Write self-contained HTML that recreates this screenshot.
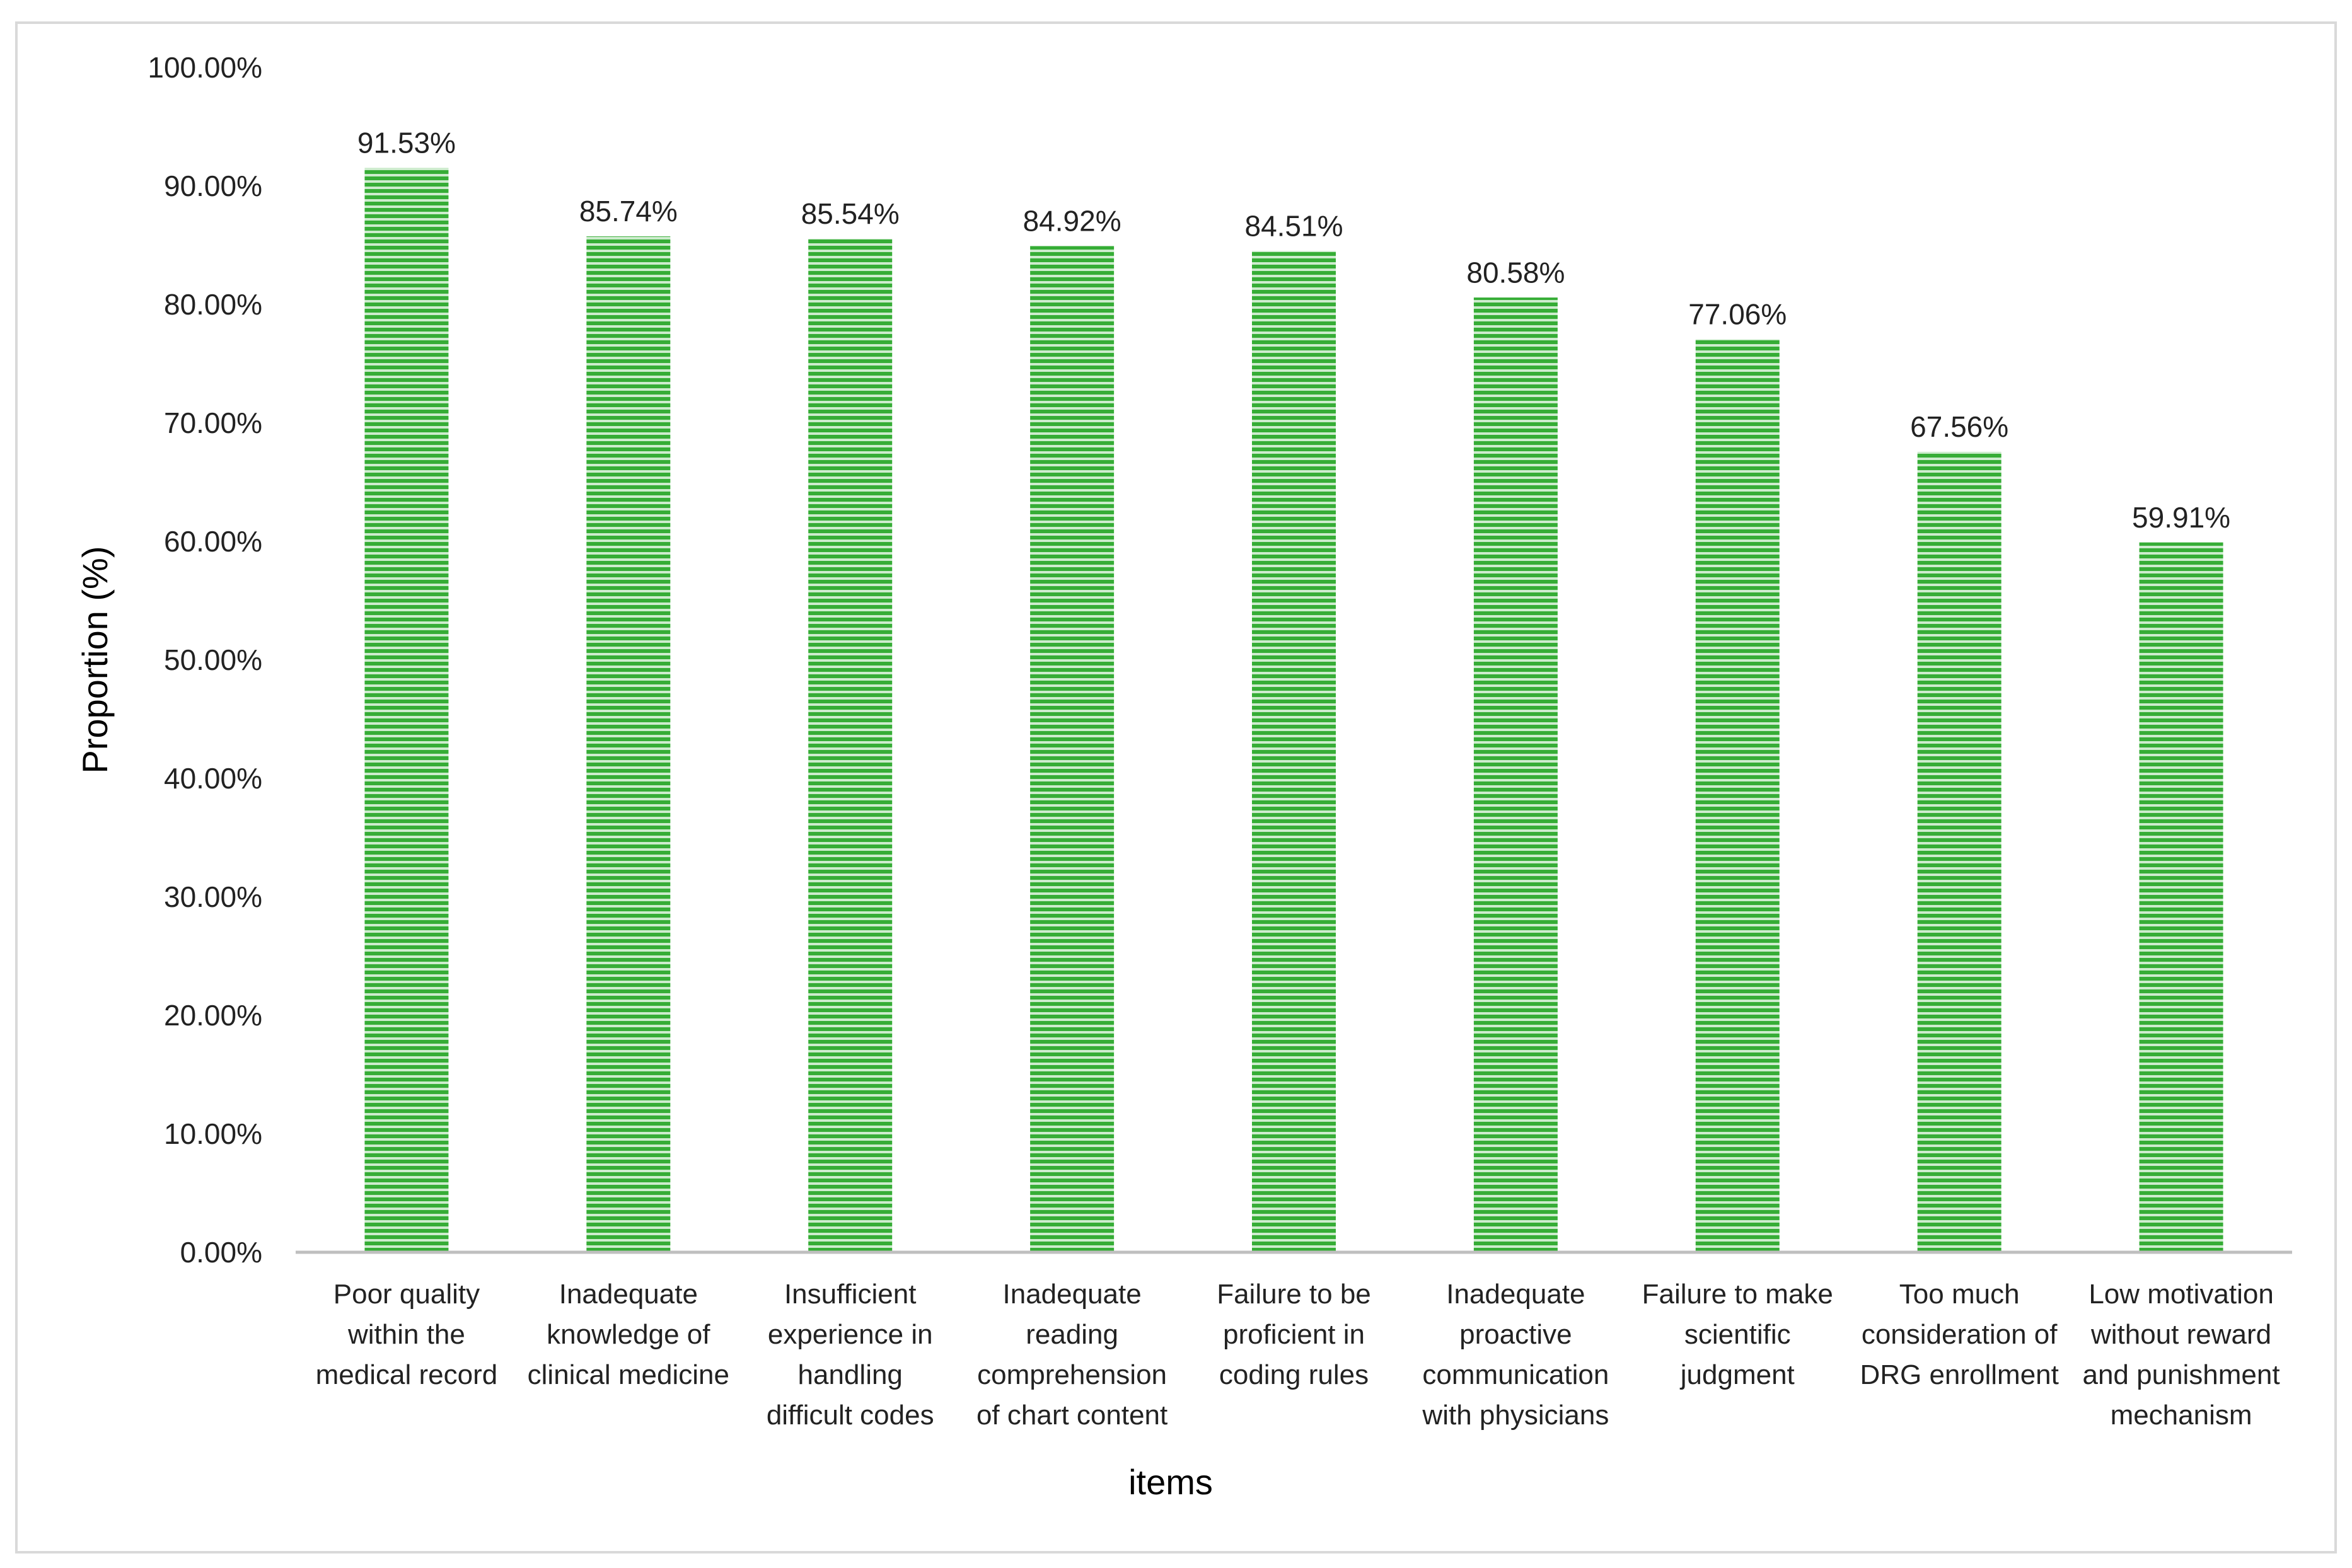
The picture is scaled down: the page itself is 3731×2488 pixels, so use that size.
<!DOCTYPE html>
<html><head><meta charset="utf-8"><style>
html,body{margin:0;padding:0;background:#fff;}
svg{display:block;font-family:"Liberation Sans",sans-serif;}
</style></head><body>
<svg id="chart" width="3731" height="2488" viewBox="0 0 3731 2488">
<defs>
<pattern id="stripes" patternUnits="userSpaceOnUse" width="20" height="10">
<rect width="20" height="10" fill="#36ad36"/>
<rect y="6" width="20" height="4" fill="#cdeccd"/>
</pattern>
</defs>
<rect x="26" y="36" width="3679" height="2427" fill="#fff" stroke="#d9d9d9" stroke-width="4"/>
<g id="yticks"></g>
<g id="bars"></g>
<g id="xlabels"></g>
<line x1="469" y1="1987" x2="3636" y2="1987" stroke="#bfbfbf" stroke-width="5"/>
<text x="155" y="1047" font-size="56" fill="#000" text-anchor="middle" dominant-baseline="middle" transform="rotate(-90 155 1047)">Proportion (%)</text>
<text x="1857" y="2356" font-size="56" fill="#000" text-anchor="middle" dominant-baseline="middle">items</text>
</svg>
<script>
const categories = [
 ["Poor quality","within the","medical record"],
 ["Inadequate","knowledge of","clinical medicine"],
 ["Insufficient","experience in","handling","difficult codes"],
 ["Inadequate","reading","comprehension","of chart content"],
 ["Failure to be","proficient in","coding rules"],
 ["Inadequate","proactive","communication","with physicians"],
 ["Failure to make","scientific","judgment"],
 ["Too much","consideration of","DRG enrollment"],
 ["Low motivation","without reward","and punishment","mechanism"]
];
const values = [91.53, 85.74, 85.54, 84.92, 84.51, 80.58, 77.06, 67.56, 59.91];
const valueLabels = ["91.53%","85.74%","85.54%","84.92%","84.51%","80.58%","77.06%","67.56%","59.91%"];
const yTicks = [0,10,20,30,40,50,60,70,80,90,100];
const yTickLabels = ["0.00%","10.00%","20.00%","30.00%","40.00%","50.00%","60.00%","70.00%","80.00%","90.00%","100.00%"];

const NS = "http://www.w3.org/2000/svg";
const plotL = 469, plotR = 3636, plotB = 1987, plotT = 107;
const yMax = 100;
function yScale(v){ return plotB - (v / yMax) * (plotB - plotT); }
const band = (plotR - plotL) / categories.length;
function xCenter(i){ return plotL + band * (i + 0.5); }
const barW = 133;

const yg = document.getElementById('yticks');
yTicks.forEach((t, i) => {
  const tx = document.createElementNS(NS, 'text');
  tx.setAttribute('x', 416);
  tx.setAttribute('y', yScale(t) + 4);
  tx.setAttribute('font-size', '46');
  tx.setAttribute('text-anchor', 'end');
  tx.setAttribute('dominant-baseline', 'middle');
  tx.setAttribute('fill', '#222');
  tx.textContent = yTickLabels[i];
  
  
  yg.appendChild(tx);
});

const bg = document.getElementById('bars');
const xg = document.getElementById('xlabels');
values.forEach((v, i) => {
  const cx = xCenter(i);
  const r = document.createElementNS(NS, 'rect');
  r.setAttribute('x', cx - barW / 2);
  r.setAttribute('y', yScale(v));
  r.setAttribute('width', barW);
  r.setAttribute('height', plotB - yScale(v));
  r.setAttribute('fill', 'url(#stripes)');
  
  
  bg.appendChild(r);

  const lb = document.createElementNS(NS, 'text');
  lb.setAttribute('x', cx);
  lb.setAttribute('y', yScale(v) - 36);
  lb.setAttribute('font-size', '46');
  lb.setAttribute('text-anchor', 'middle');
  lb.setAttribute('dominant-baseline', 'middle');
  lb.setAttribute('fill', '#222');
  lb.textContent = valueLabels[i];
  
  
  bg.appendChild(lb);

  const ct = document.createElementNS(NS, 'text');
  ct.setAttribute('font-size', '44');
  ct.setAttribute('text-anchor', 'middle');
  ct.setAttribute('fill', '#222');
  
  
  categories[i].forEach((line, j) => {
    const ts = document.createElementNS(NS, 'tspan');
    ts.setAttribute('x', cx);
    ts.setAttribute('y', 2068 + j * 64);
    ts.textContent = line;
    ct.appendChild(ts);
  });
  xg.appendChild(ct);
});
</script>
</body></html>
